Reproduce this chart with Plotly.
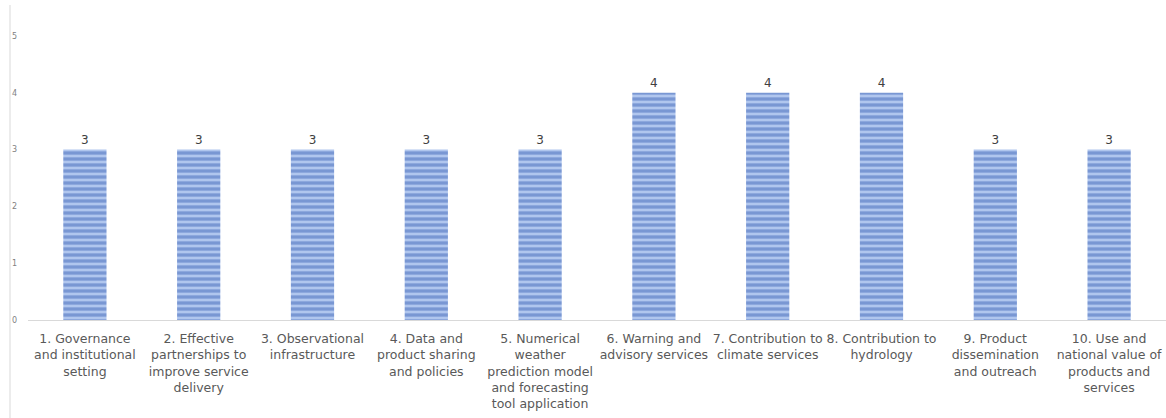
import plotly.graph_objects as go

categories = [
    "1. Governance<br>and institutional<br>setting",
    "2. Effective<br>partnerships to<br>improve service<br>delivery",
    "3. Observational<br>infrastructure",
    "4. Data and<br>product sharing<br>and policies",
    "5. Numerical<br>weather<br>prediction model<br>and forecasting<br>tool application",
    "6. Warning and<br>advisory services",
    "7. Contribution to<br>climate services",
    "8. Contribution to<br>hydrology",
    "9. Product<br>dissemination<br>and outreach",
    "10. Use and<br>national value of<br>products and<br>services",
]
values = [3, 3, 3, 3, 3, 4, 4, 4, 3, 3]
y_ticks = [0, 1, 2, 3, 4, 5]

fig = go.Figure()
fig.add_trace(go.Bar(
    x=categories,
    y=values,
    text=[str(v) for v in values],
    textposition="outside",
    textfont=dict(family="DejaVu Sans", size=12, color="#404040"),
    cliponaxis=False,
    marker=dict(
        color="#B0C6EE",
        line=dict(width=0),
        pattern=dict(shape="-", fgcolor="#4267B8", bgcolor="#B0C6EE",
                     size=6, solidity=0.55, fillmode="overlay"),
    ),
))

W, H = 1166, 418
ml, mr, mt, mb = 28, 0, 36, 98
fig.update_layout(
    width=W, height=H,
    margin=dict(l=ml, r=mr, t=mt, b=mb),
    plot_bgcolor="white", paper_bgcolor="white",
    bargap=0.62,
    showlegend=False,
    font=dict(family="DejaVu Sans", color="#595959"),
)
fig.update_xaxes(
    showline=True, linecolor="#D9D9D9", linewidth=1,
    showgrid=False, ticks="",
    tickfont=dict(family="DejaVu Sans", size=12.5, color="#595959"),
    tickangle=0,
    ticklabelstandoff=7,
)
fig.update_yaxes(
    range=[0, 5], tickvals=y_ticks,
    showgrid=False, showline=False, zeroline=False, ticks="",
    tickfont=dict(family="DejaVu Sans", size=8, color="#7F7F7F"),
    ticklabelstandoff=10,
)
# left border line of the chart frame
fig.add_shape(type="line", xref="paper", yref="paper",
              x0=(10 - ml) / (W - ml - mr), x1=(10 - ml) / (W - ml - mr),
              y0=-mb / (H - mt - mb), y1=1 + (mt - 5) / (H - mt - mb),
              line=dict(color="#D9D9D9", width=1))

fig.write_html("out.html")
